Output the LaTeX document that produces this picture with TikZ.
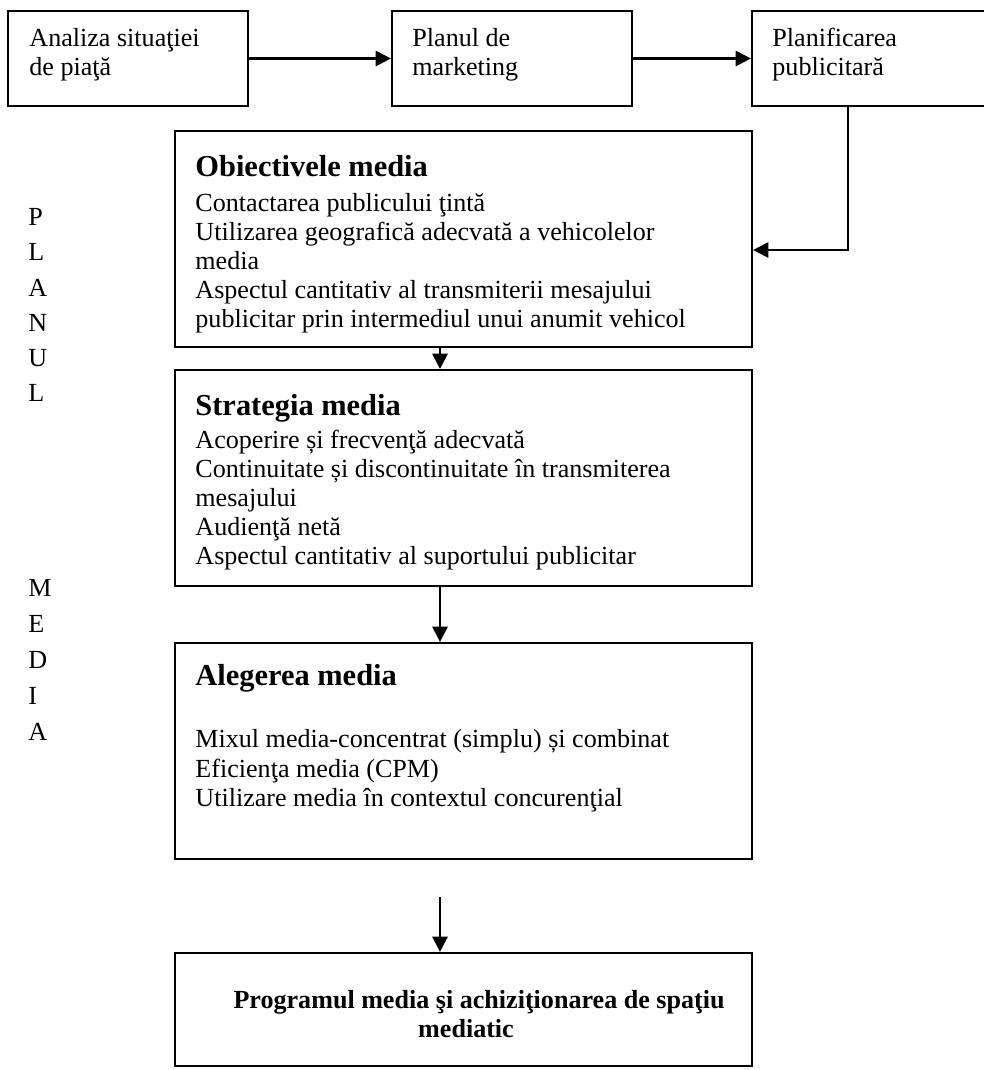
\documentclass[tikz,border=0pt]{standalone}
\usepackage{fontspec}
\setmainfont{Liberation Serif}
\usetikzlibrary{arrows.meta,fit}

\begin{document}
\begin{tikzpicture}[x=0.46pt,y=-0.46pt]
  \tikzset{
    box/.style={draw=black, line width=1pt, inner sep=0pt},
    txt/.style={anchor=north west, inner sep=0pt, align=left, font=\fontsize{12}{13.3}\selectfont},
    arr/.style={draw=black, line width=1pt, -{Triangle[length=7pt,width=7pt]}},
    letter/.style={anchor=west, inner sep=0pt, font=\fontsize{12}{13.3}\selectfont}
  }
  \useasboundingbox (0,0) rectangle (983,1070);

  % top row
  \node[box, fit={(8,11) (248,106)}] (analiza) {};
  \node[box, fit={(392,11) (632,106)}] (planul) {};
  \node[box, fit={(752,11) (995,106)}] (planif) {};
  \node[txt] (analizaT) at (29,28) {Analiza situaţiei\\de piaţă};
  \node[txt] (planulT) at (412,28) {Planul de\\marketing};
  \node[txt] (planifT) at (772,28) {Planificarea\\publicitară};

  % main column
  \node[box, fit={(175,131) (752,347)}] (obiect) {};
  \node[box, fit={(175,370) (752,586)}] (strat) {};
  \node[box, fit={(175,643) (752,859)}] (alegere) {};
  \node[box, fit={(175,953) (752,1066)}] (program) {};

  \node[txt] (obiectT) at (195,155) {{\fontsize{14}{16}\selectfont\bfseries Obiectivele media}\\[3pt]
    Contactarea publicului ţintă\\
    Utilizarea geografică adecvată a vehicolelor\\
    media\\
    Aspectul cantitativ al transmiterii mesajului\\
    publicitar prin intermediul unui anumit vehicol};
  \node[txt] (stratT) at (195,394) {{\fontsize{14}{16}\selectfont\bfseries Strategia media}\\[2pt]
    Acoperire și frecvenţă adecvată\\
    Continuitate și discontinuitate în transmiterea\\
    mesajului\\
    Audienţă netă\\
    Aspectul cantitativ al suportului publicitar};
  \node[txt, font=\fontsize{12}{13.6}\selectfont] (alegereT) at (195,664) {{\fontsize{14}{16}\selectfont\bfseries Alegerea media}\\[15pt]
    Mixul media-concentrat (simplu) și combinat\\
    Eficienţa media (CPM)\\
    Utilizare media în contextul concurenţial};
  \node[txt, anchor=north, align=center, font=\fontsize{12}{13.3}\selectfont\bfseries] (programT) at (466,990)
    {\hspace*{12pt}Programul media şi achiziţionarea de spaţiu\\mediatic};

  % side letters
  \foreach \c [count=\i from 0] in {P,L,A,N,U,L}
    \node[letter] (pl\i) at (28,{217+35.2*\i}) {\c};
  \foreach \c [count=\i from 0] in {M,E,D,I,A}
    \node[letter] (md\i) at (28,{588+36*\i}) {\c};

  % connectors
  \coordinate (turn) at (848,250);
  \coordinate (colx) at (440,0);
  \coordinate (gapTop) at (440,897);
  \draw[arr] (analiza) -- (planul);
  \draw[arr] (planul) -- (planif);
  \draw[arr] (planif.south -| turn) -- (turn) -- (obiect.east |- turn);
  \draw[arr] (obiect.south -| colx) -- (strat.north -| colx);
  \draw[arr] (strat.south -| colx) -- (alegere.north -| colx);
  \draw[arr] (gapTop) -- (program.north -| gapTop);
\end{tikzpicture}
\end{document}
